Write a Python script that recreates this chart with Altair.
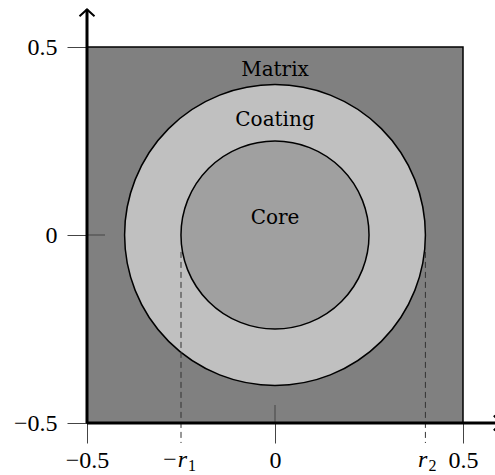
import math
import altair as alt
import pandas as pd

# Unit cell: square matrix with a coated circular inclusion
x_ticks = [-0.5, 0.0, 0.5]
y_ticks = [-0.5, 0.0, 0.5]

r1 = 0.25   # core radius
r2 = 0.4    # coating outer radius

region_names = ["Matrix", "Coating", "Core"]
region_label_y = [0.44, 0.305, 0.045]
region_fills = ["#808080", "#c0c0c0", "#a0a0a0"]

radius_symbol = ["−r", "r"]
radius_index = ["1", "2"]
radius_label_x = [-r1, r2]
radius_shift = [6, 2]   # small horizontal nudge of each radius label

PLOT = 376            # plot area side in pixels
px = 1.0 / PLOT       # one pixel in data units
TICK = 20             # outer tick length
INNER = 18            # inward part of the tick at zero
AXIS_END = 0.6        # where the arrows end

xs = alt.Scale(domain=[-0.5, 0.5], nice=False, zero=False)
ys = alt.Scale(domain=[-0.5, 0.5], nice=False, zero=False)
rs = alt.Scale(type="linear", domain=[0, 0.5], range=[0, PLOT / 2], zero=True)

label_expr = "datum.value == 0 ? '0' : format(datum.value, '.1f')"
tick_font = "Liberation Serif"

x_axis = alt.Axis(values=x_ticks, labelExpr=label_expr, labelPadding=5, title=None)
y_axis = alt.Axis(values=y_ticks, labelExpr=label_expr, labelPadding=10, title=None)

square = pd.DataFrame({"x0": [-0.5], "x1": [0.5], "y0": [-0.5], "y1": [0.5]})
matrix = alt.Chart(square).mark_rect(
    fill=region_fills[0], stroke="black", strokeWidth=1.5
).encode(
    x=alt.X("x0:Q", scale=xs, axis=x_axis), x2="x1:Q",
    y=alt.Y("y0:Q", scale=ys, axis=y_axis), y2="y1:Q",
)


def X(field):
    return alt.X(field, scale=xs)


def Y(field):
    return alt.Y(field, scale=ys)


def disc(radius, fill):
    df = pd.DataFrame({"cx": [0.0], "cy": [0.0], "r": [radius]})
    return alt.Chart(df).mark_arc(
        theta=0, theta2=2 * math.pi, fill=fill, stroke="black", strokeWidth=1.5
    ).encode(
        x=X("cx:Q"), y=Y("cy:Q"),
        radius=alt.Radius("r:Q", scale=rs),
    )


coating = disc(r2, region_fills[1])
core = disc(r1, region_fills[2])

labels_df = pd.DataFrame({"name": region_names, "x": [0.0] * 3, "y": region_label_y})
region_text = alt.Chart(labels_df).mark_text(
    font="DejaVu Serif", fontSize=20, color="black", baseline="middle"
).encode(x=X("x:Q"), y=Y("y:Q"), text="name:N")

# dashed guides from the circles down to the axis
guides_df = pd.DataFrame({"x": radius_label_x, "y": [-0.045] * 2,
                          "y2": [-0.5 - TICK * px] * 2})
guides = alt.Chart(guides_df).mark_rule(
    color="#333", strokeWidth=1, strokeDash=[6, 4]
).encode(x=X("x:Q"), y=Y("y:Q"), y2="y2:Q")

# radius labels under the axis: italic symbol with an upright index
radius_layers = []
for xv, sym, idx, shift in zip(radius_label_x, radius_symbol, radius_index, radius_shift):
    one = pd.DataFrame({"x": [xv], "y": [-0.5], "s": [sym], "i": [idx]})
    radius_layers.append(alt.Chart(one).mark_text(
        font=tick_font, fontSize=24, fontStyle="italic", color="black",
        baseline="alphabetic", align="right", dx=shift, dy=44
    ).encode(x=X("x:Q"), y=Y("y:Q"), text="s:N"))
    radius_layers.append(alt.Chart(one).mark_text(
        font=tick_font, fontSize=16, color="black",
        baseline="alphabetic", align="left", dx=shift + 1, dy=48
    ).encode(x=X("x:Q"), y=Y("y:Q"), text="i:N"))

# inward continuation of the ticks at zero
inner_df = pd.DataFrame({
    "x": [0.0, -0.5], "x2": [0.0, -0.5 + INNER * px],
    "y": [-0.5, 0.0], "y2": [-0.5 + INNER * px, 0.0],
})
inner_ticks = alt.Chart(inner_df).mark_rule(color="#444", strokeWidth=1).encode(
    x=X("x:Q"), x2="x2:Q", y=Y("y:Q"), y2="y2:Q"
)

# thick coordinate axes with arrow heads
axes_df = pd.DataFrame({
    "x": [-0.5, -0.5], "x2": [-0.5, AXIS_END],
    "y": [-0.5, -0.5], "y2": [AXIS_END, -0.5],
})
axes = alt.Chart(axes_df).mark_rule(color="black", strokeWidth=3).encode(
    x=X("x:Q"), x2="x2:Q", y=Y("y:Q"), y2="y2:Q"
)

up_head = alt.Chart(pd.DataFrame({"x": [-0.5], "y": [AXIS_END]})).mark_point(
    shape="M-1,0.9L0,0L1,0.9", size=225, filled=False, stroke="black",
    strokeWidth=2, opacity=1
).encode(x=X("x:Q"), y=Y("y:Q"))

right_head = alt.Chart(pd.DataFrame({"x": [AXIS_END], "y": [-0.5]})).mark_point(
    shape="M-0.9,-1L0,0L-0.9,1", size=225, filled=False, stroke="black",
    strokeWidth=2, opacity=1
).encode(x=X("x:Q"), y=Y("y:Q"))

chart = alt.layer(
    matrix, coating, core, region_text, guides, *radius_layers,
    inner_ticks, axes, up_head, right_head
).properties(
    width=PLOT, height=PLOT,
    autosize=alt.AutoSizeParams(type="none"),
    padding={"left": 87, "top": 47, "right": 32, "bottom": 52},
).configure_view(
    strokeWidth=0
).configure_axis(
    tickSize=TICK, tickColor="#444", tickWidth=1, domain=False, grid=False,
    labelFont=tick_font, labelFontSize=24, labelColor="black",
    labelFlush=False, labelOverlap=False,
)

chart.save("out.html", embed_options={"renderer": "svg", "actions": False})
